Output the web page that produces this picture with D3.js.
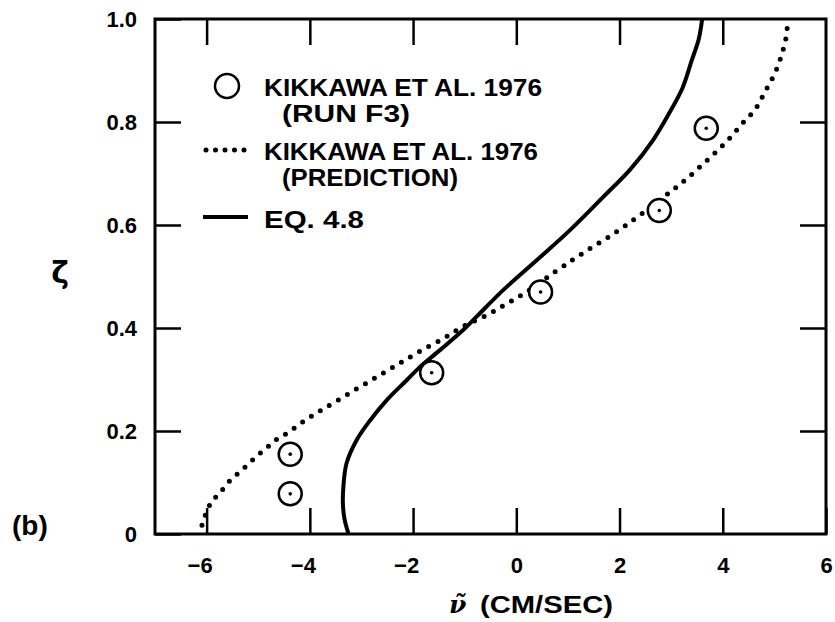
<!DOCTYPE html>
<html>
<head>
<meta charset="utf-8">
<script src="https://cdn.jsdelivr.net/npm/d3@7"></script>
<style>
  html, body { margin: 0; padding: 0; background: #fff; }
  svg { display: block; }
</style>
</head>
<body>
<svg id="chart" width="835" height="622"></svg>
<script>
// ---- Data ----
const xTicks = [-6, -4, -2, 0, 2, 4, 6];
const yTicks = [0, 0.2, 0.4, 0.6, 0.8, 1.0];

// Kikkawa et al. 1976 (Run F3) measured points
const runV    = [-4.38, -4.38, -1.64, 0.47, 2.77, 3.68];
const runZeta = [0.078, 0.155, 0.313, 0.470, 0.628, 0.788];

// Kikkawa et al. 1976 prediction (dotted)
const predV = [-6.09, -6.00, -5.90, -5.74, -5.59, -5.42, -5.22, -5.04, -4.84, -4.64, -4.42,
               -4.19, -3.98, -3.77, -3.55, -3.09, -2.67, -2.27, -1.88, -1.41, -1.03, -0.57,
               -0.19, 0.20, 0.72, 1.10, 1.44, 1.78, 2.13, 2.49, 2.98, 3.27, 3.56, 3.83, 4.11,
               4.37, 4.63, 4.82, 5.01, 5.14, 5.23, 5.25];
const predZeta = [0.017, 0.043, 0.063, 0.080, 0.099, 0.115, 0.133, 0.150, 0.167, 0.184, 0.197,
                  0.214, 0.228, 0.241, 0.254, 0.282, 0.307, 0.331, 0.354, 0.380, 0.403, 0.425,
                  0.447, 0.470, 0.507, 0.533, 0.555, 0.576, 0.600, 0.626, 0.664, 0.687, 0.713,
                  0.738, 0.766, 0.796, 0.825, 0.859, 0.895, 0.930, 0.966, 0.985];

// Eq. 4.8 (solid)
const eqV    = [-3.25, -3.33, -3.36, -3.35, -3.29, -3.09, -2.83, -2.51, -2.12, -1.87, -1.48,
                -1.03, -0.77, -0.25, 0.40, 1.04, 1.69, 2.20, 2.65, 2.95, 3.22, 3.40, 3.53,
                3.59, 3.60];
const eqZeta = [0, 0.03, 0.06, 0.092, 0.137, 0.183, 0.221, 0.260, 0.299, 0.324, 0.357,
                0.396, 0.422, 0.474, 0.532, 0.590, 0.655, 0.707, 0.765, 0.815, 0.866, 0.920,
                0.959, 0.992, 1.0];

const legendLabels = ["KIKKAWA ET AL. 1976", "(RUN F3)", "KIKKAWA ET AL. 1976", "(PREDICTION)", "EQ. 4.8"];

// ---- Drawing ----
const svg = d3.select("#chart");
const FONT = "'Liberation Sans', Arial, sans-serif";

const x = d3.scaleLinear().domain([-7, 6]).range([155, 826]);
const y = d3.scaleLinear().domain([0, 1]).range([534, 19]);

svg.append("rect").attr("width", 835).attr("height", 622).attr("fill", "#fff");

// Axes with inward ticks
const fmtX = d => d < 0 ? "\u2212" + Math.abs(d) : String(d);
const fmtY = d => d === 0 ? "0" : d.toFixed(1);

function styleAxis(g) {
  g.select(".domain").remove();
  g.selectAll(".tick line").attr("stroke", "#000").attr("stroke-width", 2.5);
  g.selectAll(".tick text")
    .attr("fill", "#000")
    .attr("font-family", FONT)
    .attr("font-weight", "bold")
    .attr("font-size", 22);
}

const gBottom = svg.append("g").attr("transform", `translate(0,${y(0)})`)
  .call(d3.axisBottom(x).tickValues(xTicks).tickSizeInner(-26).tickSizeOuter(0)
        .tickPadding(23).tickFormat(fmtX));
styleAxis(gBottom);
gBottom.selectAll(".tick text").filter(d => d < 0).attr("dx", -7);

const gTop = svg.append("g").attr("transform", `translate(0,${y(1)})`)
  .call(d3.axisTop(x).tickValues(xTicks.slice(0, -1)).tickSizeInner(-26).tickSizeOuter(0).tickFormat(""));
styleAxis(gTop);

const gLeft = svg.append("g").attr("transform", `translate(${x(-7)},0)`)
  .call(d3.axisLeft(y).tickValues(yTicks).tickSizeInner(-26).tickSizeOuter(0)
        .tickPadding(18).tickFormat(fmtY));
styleAxis(gLeft);

const gRight = svg.append("g").attr("transform", `translate(${x(6)},0)`)
  .call(d3.axisRight(y).tickValues(yTicks.slice(1, -1)).tickSizeInner(-26).tickSizeOuter(0).tickFormat(""));
styleAxis(gRight);

// Frame
svg.append("rect")
  .attr("x", x(-7)).attr("y", y(1))
  .attr("width", x(6) - x(-7)).attr("height", y(0) - y(1))
  .attr("fill", "none").attr("stroke", "#000").attr("stroke-width", 3);

// Prediction (dotted)
const predData = predV.map((v, i) => [v, predZeta[i]]);
const lineGen = d3.line().x(d => x(d[0])).y(d => y(d[1])).curve(d3.curveCatmullRom.alpha(0.5));
svg.append("path")
  .datum(predData)
  .attr("d", lineGen)
  .attr("fill", "none").attr("stroke", "#000")
  .attr("stroke-width", 5).attr("stroke-linecap", "round")
  .attr("stroke-dasharray", "0 10.5");

// Eq. 4.8 (solid)
const eqData = eqV.map((v, i) => [v, eqZeta[i]]);
svg.append("path")
  .datum(eqData)
  .attr("d", lineGen)
  .attr("fill", "none").attr("stroke", "#000")
  .attr("stroke-width", 4).attr("stroke-linejoin", "round");

// Run F3 points
const runData = runV.map((v, i) => [v, runZeta[i]]);
const pts = svg.append("g").selectAll("g").data(runData).join("g")
  .attr("transform", d => `translate(${x(d[0])},${y(d[1])})`);
pts.append("circle").attr("r", 11.5).attr("fill", "#fff").attr("stroke", "#000").attr("stroke-width", 2.5);
pts.append("circle").attr("r", 1.8).attr("fill", "#000");

// Legend
const lg = svg.append("g");
lg.append("circle").attr("cx", 227).attr("cy", 86).attr("r", 12)
  .attr("fill", "none").attr("stroke", "#000").attr("stroke-width", 2.5);
lg.append("line").attr("x1", 206).attr("x2", 246).attr("y1", 150).attr("y2", 150)
  .attr("stroke", "#000").attr("stroke-width", 5).attr("stroke-linecap", "round")
  .attr("stroke-dasharray", "0 9.5");
lg.append("line").attr("x1", 203).attr("x2", 248).attr("y1", 217).attr("y2", 217)
  .attr("stroke", "#000").attr("stroke-width", 4);

const legendPos = [
  {x: 264, y: 96, w: 278},
  {x: 282, y: 122, w: 128},
  {x: 264, y: 160, w: 274},
  {x: 282, y: 186, w: 176},
  {x: 264, y: 228, w: 100}
];
lg.selectAll("text.leg").data(legendLabels).join("text")
  .attr("class", "leg")
  .attr("x", (d, i) => legendPos[i].x)
  .attr("y", (d, i) => legendPos[i].y)
  .attr("textLength", (d, i) => legendPos[i].w)
  .attr("lengthAdjust", "spacingAndGlyphs")
  .attr("font-family", FONT).attr("font-weight", "bold").attr("font-size", 24)
  .attr("fill", "#000")
  .text(d => d);

// Axis titles
svg.append("text").attr("x", 60).attr("y", 283).attr("text-anchor", "middle")
  .attr("font-family", "'DejaVu Sans', sans-serif").attr("font-weight", "bold").attr("font-size", 30)
  .attr("fill", "#000").text("\u03B6");

svg.append("text").attr("x", 12).attr("y", 535)
  .attr("font-family", FONT).attr("font-weight", "bold").attr("font-size", 28)
  .attr("fill", "#000").text("(b)");

svg.append("text").attr("x", 449).attr("y", 613)
  .attr("font-family", "'DejaVu Serif', serif").attr("font-style", "italic").attr("font-weight", "bold")
  .attr("font-size", 25).attr("fill", "#000").text("\u03BD\u0303");
svg.append("text").attr("x", 480).attr("y", 613)
  .attr("textLength", 133).attr("lengthAdjust", "spacingAndGlyphs")
  .attr("font-family", FONT).attr("font-weight", "bold").attr("font-size", 23)
  .attr("fill", "#000").text("(CM/SEC)");
</script>
</body>
</html>
